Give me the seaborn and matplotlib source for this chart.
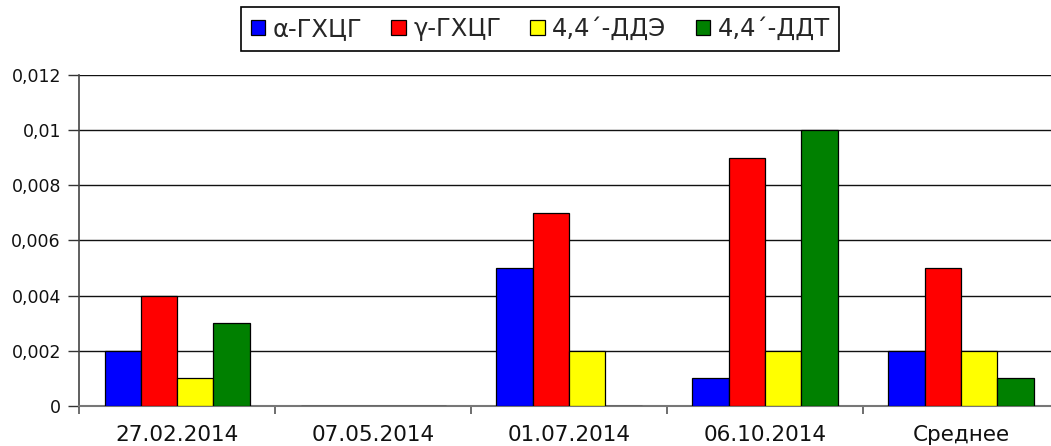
import matplotlib
matplotlib.use("Agg")
import matplotlib.pyplot as plt
import seaborn as sns
import pandas as pd
from matplotlib.ticker import FixedLocator, FuncFormatter

# Sampling dates and the summary column
dates = ["27.02.2014", "07.05.2014", "01.07.2014", "06.10.2014", "Среднее"]
# Concentrations per compound
alpha_hch = [0.002, 0.0, 0.005, 0.001, 0.002]
gamma_hch = [0.004, 0.0, 0.007, 0.009, 0.005]
dde = [0.001, 0.0, 0.002, 0.002, 0.002]
ddt = [0.003, 0.0, 0.0, 0.010, 0.001]
compounds = ["α-ГХЦГ", "γ-ГХЦГ", "4,4ˊ-ДДЭ", "4,4ˊ-ДДТ"]
colors = ["#0000FF", "#FF0000", "#FFFF00", "#008000"]

rows = []
for name, vals in zip(compounds, [alpha_hch, gamma_hch, dde, ddt]):
    for d, v in zip(dates, vals):
        rows.append({"date": d, "compound": name, "value": v})
df = pd.DataFrame(rows)

sns.set_theme(style="white")
plt.rcParams["font.family"] = ["DejaVu Sans"]

fig = plt.figure(figsize=(10.51, 4.46), dpi=100)
ax = fig.add_axes([0.0752, 0.0897, 0.9324, 0.7423])

sns.barplot(data=df, x="date", y="value", hue="compound", order=dates,
            hue_order=compounds, palette=colors, saturation=1, width=0.74,
            edgecolor="black", linewidth=0.9, errorbar=None, ax=ax,
            zorder=3)

ax.set_ylim(0, 0.012)
ax.set_xlim(-0.5, 4.5)
ax.set_yticks([0, 0.002, 0.004, 0.006, 0.008, 0.01, 0.012])
ax.yaxis.set_major_formatter(FuncFormatter(
    lambda v, p: "0" if v == 0 else f"{v:.3f}".rstrip("0").replace(".", ",")))
ax.yaxis.grid(True, color="#111111", linewidth=1.0, zorder=0)
ax.set_axisbelow(True)

ax.set_xlabel("")
ax.set_ylabel("")
for s in ["top", "right"]:
    ax.spines[s].set_visible(False)
ax.spines["left"].set_color("#444444")
ax.spines["left"].set_linewidth(1.2)
ax.spines["bottom"].set_color("#777777")
ax.spines["bottom"].set_linewidth(1.5)

ax.tick_params(axis="y", which="major", direction="out", length=8, width=1,
               color="#333333", left=True, labelsize=12.5, labelcolor="#111111", pad=5)
ax.tick_params(axis="x", which="major", length=0, labelsize=15.5,
               labelcolor="#111111", pad=14)
ax.xaxis.set_minor_locator(FixedLocator([-0.5, 0.5, 1.5, 2.5, 3.5]))
ax.tick_params(axis="x", which="minor", direction="out", length=6, width=1.2,
               color="#555555", bottom=True)

leg = ax.legend(loc="center", bbox_to_anchor=(0.514, 0.935),
                bbox_transform=fig.transFigure, ncol=4, frameon=True,
                fancybox=False, edgecolor="black", fontsize=17.5,
                handlelength=0.6, handleheight=0.6, handletextpad=0.3,
                columnspacing=1.2, borderpad=0.4)
leg.get_frame().set_linewidth(1.2)
leg.get_frame().set_alpha(1)

fig.savefig("out.png", dpi=100)
